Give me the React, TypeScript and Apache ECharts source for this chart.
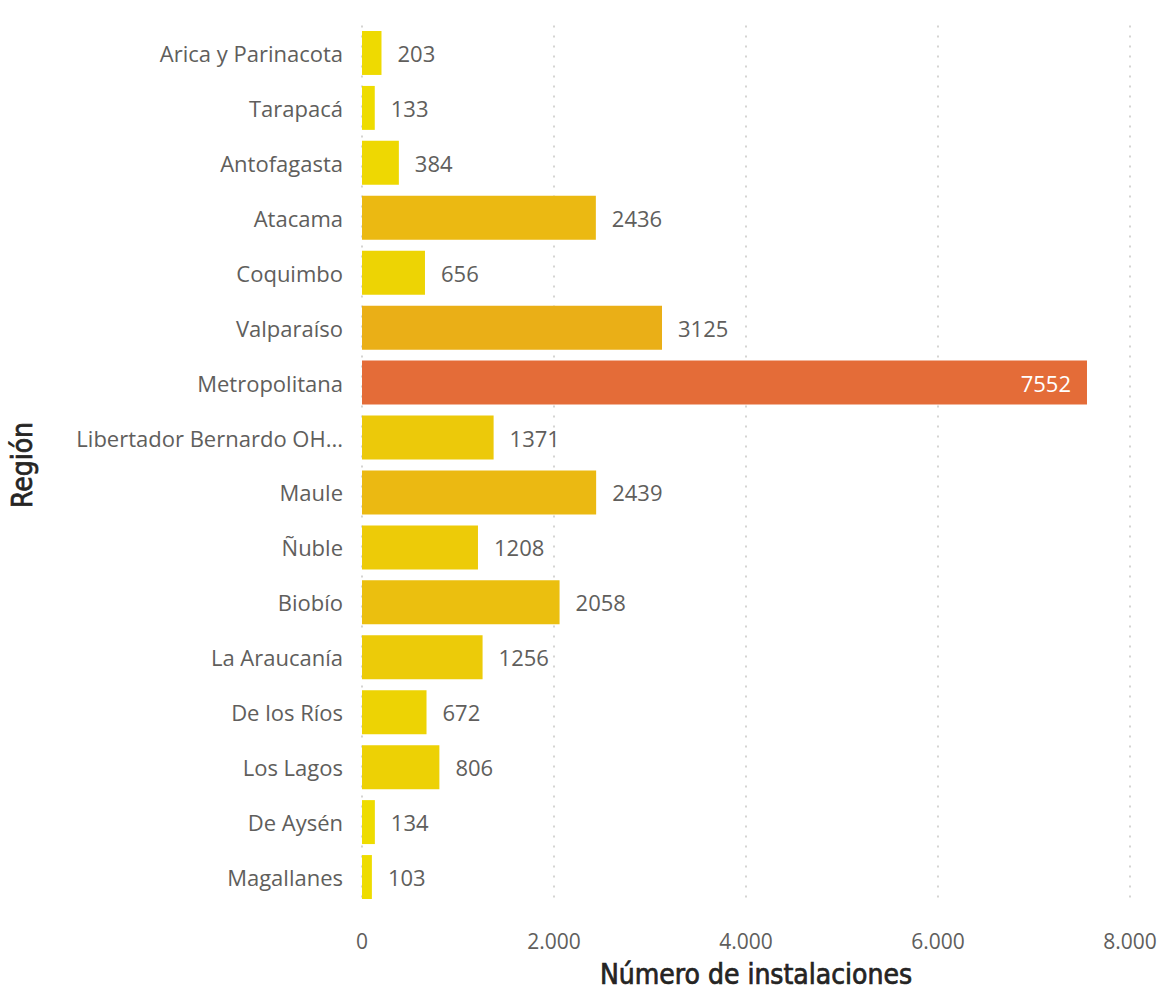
import React, { useEffect, useRef } from "react";
import * as echarts from "echarts";

const regions = [
  "Arica y Parinacota",
  "Tarapacá",
  "Antofagasta",
  "Atacama",
  "Coquimbo",
  "Valparaíso",
  "Metropolitana",
  "Libertador Bernardo OHiggins",
  "Maule",
  "Ñuble",
  "Biobío",
  "La Araucanía",
  "De los Ríos",
  "Los Lagos",
  "De Aysén",
  "Magallanes",
];
const installations = [203, 133, 384, 2436, 656, 3125, 7552, 1371, 2439, 1208, 2058, 1256, 672, 806, 134, 103];
const xTicks = [0, 2000, 4000, 6000, 8000];

const LABEL_FONT = "'Segoe UI', 'Open Sans', 'Noto Sans', sans-serif";
const TITLE_FONT = "'DIN', 'DejaVu Sans Condensed', 'Roboto Condensed', 'Noto Sans', sans-serif";

export default function App() {
  const ref = useRef<HTMLDivElement>(null);
  useEffect(() => {
    document.body.style.margin = "0";
    const chart = echarts.init(ref.current!, null, { renderer: "svg" });
    const minV = Math.min(...installations);
    const maxV = Math.max(...installations);
    const titleStyle = {
      fontFamily: TITLE_FONT,
      fontSize: 28,
      fontWeight: "normal",
      fill: "#252423",
      stroke: "#252423",
      lineWidth: 0.7,
      align: "center",
      verticalAlign: "middle",
    };
    chart.setOption({
      animation: false,
      backgroundColor: "#ffffff",
      grid: { left: 362, right: 32, top: 25.5, bottom: 87.5, containLabel: false },
      visualMap: {
        show: false,
        type: "continuous",
        min: minV,
        max: maxV,
        dimension: 0,
        seriesIndex: 0,
        inRange: { color: ["#EEDC00", "#E46C38"] },
      },
      xAxis: {
        type: "value",
        min: xTicks[0],
        max: xTicks[xTicks.length - 1],
        interval: 2000,
        axisLine: { show: false },
        axisTick: { show: false },
        splitLine: { show: true, lineStyle: { color: "#C8C6C4", type: [2, 8], width: 1.5 } },
        axisLabel: {
          color: "#605E5C",
          fontFamily: LABEL_FONT,
          fontSize: 21,
          margin: 26,
          formatter: (v: number) => v.toLocaleString("de-DE"),
        },
      },
      yAxis: {
        type: "category",
        data: regions,
        inverse: true,
        axisLine: { show: false },
        axisTick: { show: false },
        axisLabel: {
          color: "#605E5C",
          fontFamily: LABEL_FONT,
          fontSize: 22,
          margin: 19,
          formatter: (s: string) => (s.length > 24 ? s.slice(0, 22) + "..." : s),
        },
      },
      graphic: [
        {
          type: "text",
          x: 22,
          y: 465,
          rotation: Math.PI / 2,
          style: { text: "Región", ...titleStyle },
        },
        {
          type: "text",
          x: 756,
          y: 974,
          style: { text: "Número de instalaciones", ...titleStyle },
        },
      ],
      series: [
        {
          type: "bar",
          data: installations.map((v) =>
            v === maxV
              ? {
                  value: v,
                  label: { position: "insideRight", color: "#ffffff", distance: 16 },
                }
              : v
          ),
          barCategoryGap: "20%",
          label: {
            show: true,
            position: "right",
            distance: 16,
            color: "#605E5C",
            fontFamily: LABEL_FONT,
            fontSize: 22,
          },
        },
      ],
    });
    return () => chart.dispose();
  }, []);
  return <div ref={ref} style={{ width: 1162, height: 992 }} />;
}
